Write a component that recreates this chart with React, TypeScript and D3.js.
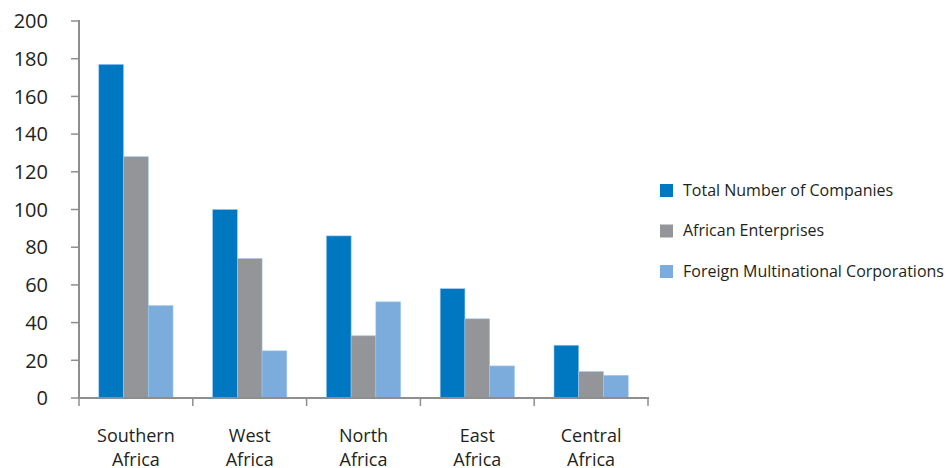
import React, { useEffect } from "react";
import * as d3 from "d3";

const categories = ["Southern Africa", "West Africa", "North Africa", "East Africa", "Central Africa"];
const seriesNames = ["Total Number of Companies", "African Enterprises", "Foreign Multinational Corporations"];
const totalCompanies = [177, 100, 86, 58, 28];
const africanEnterprises = [128, 74, 33, 42, 14];
const foreignMNCs = [49, 25, 51, 17, 12];
const yTicks = [0, 20, 40, 60, 80, 100, 120, 140, 160, 180, 200];
const colors = ["#0077C1", "#939598", "#7BACDB"];

const W = 951;
const H = 468;
const font = "'Open Sans', 'Liberation Sans', sans-serif";

export default function App() {
  useEffect(() => {
    document.body.style.margin = "0";
  }, []);
  const series = [totalCompanies, africanEnterprises, foreignMNCs];
  const x0 = d3.scaleBand<string>().domain(categories).range([79, 648]).paddingInner(0).paddingOuter(0);
  const x1 = d3
    .scaleBand<number>()
    .domain([0, 1, 2])
    .range([0, x0.bandwidth()])
    .paddingOuter(0.8)
    .paddingInner(0);
  const y = d3.scaleLinear().domain([0, 200]).range([398, 21]);
  const axisColor = "#8E8E8E";
  const boundaries = categories.map((c) => x0(c) as number).concat([648]);

  return (
    <svg width={W} height={H} style={{ position: "absolute", left: 0, top: 0, background: "#fff" }} fontFamily={font}>
      {series.map((vals, si) =>
        vals.map((v, ci) => {
          const bx = (x0(categories[ci]) as number) + (x1(si) as number);
          return (
            <rect
              key={`${si}-${ci}`}
              x={bx}
              y={y(v)}
              width={x1.bandwidth()}
              height={y(0) - y(v)}
              fill={colors[si]}
              stroke="#9CC8EE"
              strokeWidth={0.6}
            />
          );
        })
      )}
      {/* y axis */}
      <line x1={79} x2={79} y1={20} y2={399} stroke={axisColor} strokeWidth={2} />
      {yTicks.map((t) => (
        <g key={t}>
          <line x1={71} x2={79} y1={y(t)} y2={y(t)} stroke={axisColor} strokeWidth={1.5} />
          <text x={48} y={y(t)} dy="0.36em" textAnchor="end" fontSize={20} fill="#231F20">
            {t}
          </text>
        </g>
      ))}
      {/* x axis */}
      <line x1={78} x2={649} y1={398} y2={398} stroke={axisColor} strokeWidth={2} />
      {boundaries.map((b, i) => (
        <line key={i} x1={b} x2={b} y1={398} y2={406} stroke={axisColor} strokeWidth={1.5} />
      ))}
      {categories.map((c) => {
        const cx = (x0(c) as number) + x0.bandwidth() / 2;
        const parts = c.split(" ");
        return (
          <text key={c} x={cx} textAnchor="middle" fontSize={18} fill="#231F20">
            <tspan x={cx} y={442}>{parts[0]}</tspan>
            <tspan x={cx} y={466}>{parts[1]}</tspan>
          </text>
        );
      })}
      {/* legend */}
      {seriesNames.map((n, i) => {
        const ly = 190 + i * 40.5;
        return (
          <g key={n}>
            <rect x={660} y={ly - 6} width={13} height={13} fill={colors[i]} />
            <text x={683} y={ly} dy="0.35em" fontSize={16} fill="#231F20">
              {n}
            </text>
          </g>
        );
      })}
    </svg>
  );
}
